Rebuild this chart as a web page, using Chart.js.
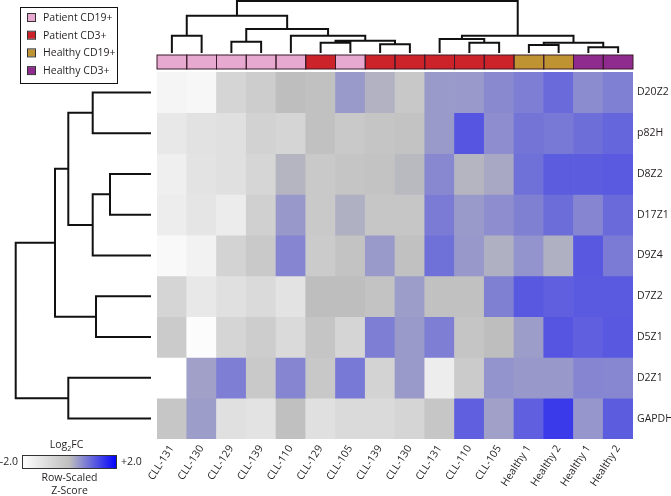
<!DOCTYPE html>
<html>
<head>
<meta charset="utf-8">
<script src="https://cdn.jsdelivr.net/npm/chart.js@4.4.0/dist/chart.umd.min.js"></script>
<style>
  html, body { margin: 0; padding: 0; background: #fff; }
  canvas { display: block; }
</style>
</head>
<body>
<canvas id="heatmap" width="671" height="496"></canvas>
<script>
// Column (sample) labels, in dendrogram order
const colLabels = ['CLL-131', 'CLL-130', 'CLL-129', 'CLL-139', 'CLL-110', 'CLL-129', 'CLL-105', 'CLL-139',
                   'CLL-130', 'CLL-131', 'CLL-110', 'CLL-105', 'Healthy 1', 'Healthy 2', 'Healthy 1', 'Healthy 2'];
// Sample group of each column (index into groupNames)
const colGroups = [0, 0, 0, 0, 0, 1, 0, 1, 1, 1, 1, 1, 2, 2, 3, 3];
const groupNames = ['Patient CD19+', 'Patient CD3+', 'Healthy CD19+', 'Healthy CD3+'];
const groupColors = ['#e7a9d0', '#cc2229', '#bf9331', '#8f2a8f'];

// Row (probe) labels
const rowLabels = ['D20Z2', 'p82H', 'D8Z2', 'D17Z1', 'D9Z4', 'D7Z2', 'D5Z1', 'D2Z1', 'GAPDH'];

// Row-scaled z-scores, one array per row
const d20z2 = [-1.70, -1.75, -0.70, -0.45, 0.00, -0.10, 0.38, 0.13, -0.30, 0.38, 0.39, 0.56, 0.67, 0.88, 0.54, 0.66];
const p82h  = [-1.29, -1.10, -1.05, -0.60, -0.70, -0.10, -0.35, -0.20, -0.15, 0.38, 1.10, 0.52, 0.78, 0.74, 0.84, 0.93];
const d8z2  = [-1.50, -1.15, -1.05, -0.75, 0.10, -0.35, -0.20, -0.15, 0.05, 0.57, 0.10, 0.23, 0.82, 1.03, 1.03, 1.05];
const d17z1 = [-1.45, -1.20, -1.40, -0.55, 0.40, -0.35, 0.15, -0.25, -0.25, 0.70, 0.38, 0.52, 0.65, 0.85, 0.60, 0.88];
const d9z4  = [-1.80, -1.60, -0.65, -0.35, 0.60, -0.40, -0.15, 0.38, -0.10, 0.82, 0.40, 0.15, 0.45, 0.15, 1.07, 0.70];
const d7z2  = [-0.70, -1.30, -1.05, -0.85, -1.15, 0.00, 0.00, -0.15, 0.35, -0.10, -0.10, 0.65, 1.07, 1.00, 1.05, 1.05];
const d5z1  = [-0.40, -1.90, -0.70, -0.45, -0.85, -0.20, -0.70, 0.67, 0.38, 0.67, -0.20, 0.00, 0.35, 1.10, 1.00, 1.07];
const d2z1  = [-2.00, 0.32, 0.67, -0.35, 0.60, -0.30, 0.74, -0.65, 0.38, -1.45, -0.40, 0.45, 0.40, 0.40, 0.60, 0.58];
const gapdh = [-0.25, 0.35, -1.05, -1.15, -0.05, -1.05, -0.85, -0.85, -0.70, -0.25, 1.00, 0.32, 1.00, 1.39, 0.42, 1.03];
const zScores = [d20z2, p82h, d8z2, d17z1, d9z4, d7z2, d5z1, d2z1, gapdh];

// Dendrogram merges: [childA, childB, height]; ids >= n refer to earlier merges
const colMerges = [
  [14, 15, 4.7], [12, 13, 7], [7, 8, 7.7], [5, 6, 9.3], [10, 11, 9.3],
  [16, 17, 9.3], [2, 3, 10.3], [19, 18, 11.3], [9, 20, 13], [0, 1, 16.3],
  [4, 23, 16.3], [24, 21, 16.3], [22, 26, 23], [25, 28, 36.3], [29, 27, 51]
];
const rowMerges = [
  [2, 3, 40], [0, 1, 57.3], [9, 4, 57.3], [5, 6, 54],
  [7, 8, 81.7], [10, 11, 81.7], [14, 12, 95], [15, 13, 134.3]
];

const FONT = "'Open Sans', sans-serif";

// -2 -> white, 0 -> grey, +2 -> blue
function zColor(v) {
  const t = Math.max(0, Math.min(1, (v + 2) / 4));
  if (t < 0.5) {
    const g = Math.round(255 - 65 * t * 2);
    return `rgb(${g},${g},${g})`;
  }
  const s = (t - 0.5) * 2;
  const rg = Math.round(190 * (1 - s));
  return `rgb(${rg},${rg},${Math.round(190 + 65 * s)})`;
}

// Draw a dendrogram; leafPos(i) gives the pixel of leaf i, place(pos, h) returns [x, y]
function drawDendro(ctx, merges, n, leafPos, place) {
  const pos = [], hgt = [];
  for (let i = 0; i < n; i++) { pos.push(leafPos(i)); hgt.push(0); }
  ctx.beginPath();
  merges.forEach(([a, b, h]) => {
    const p1 = place(pos[a], hgt[a]), p2 = place(pos[a], h);
    const p3 = place(pos[b], h), p4 = place(pos[b], hgt[b]);
    ctx.moveTo(p1[0], p1[1]);
    ctx.lineTo(p2[0], p2[1]);
    ctx.lineTo(p3[0], p3[1]);
    ctx.lineTo(p4[0], p4[1]);
    pos.push((pos[a] + pos[b]) / 2);
    hgt.push(h);
  });
  ctx.stroke();
}

const extrasPlugin = {
  id: 'extras',
  afterDraw(chart) {
    const { ctx, chartArea, scales: { x, y } } = chart;
    const half = (x.getPixelForValue(1) - x.getPixelForValue(0)) / 2;
    ctx.save();

    // dendrograms
    ctx.strokeStyle = '#111';
    ctx.lineWidth = 2;
    ctx.lineCap = 'square';
    const leafY = chartArea.top - 20;
    drawDendro(ctx, colMerges, colLabels.length, i => x.getPixelForValue(i), (p, h) => [p, leafY - h]);
    const leafX = chartArea.left - 7;
    drawDendro(ctx, rowMerges, rowLabels.length, i => y.getPixelForValue(i + 0.5), (p, h) => [leafX - h, p]);

    // group annotation bar
    const barTop = chartArea.top - 17, barH = 14;
    colGroups.forEach((g, i) => {
      const cx = x.getPixelForValue(i);
      ctx.fillStyle = groupColors[g];
      ctx.fillRect(cx - half, barTop, half * 2, barH);
    });
    ctx.strokeStyle = '#3a1a2a';
    ctx.lineWidth = 1;
    colGroups.forEach((g, i) => {
      const cx = x.getPixelForValue(i);
      ctx.strokeRect(cx - half, barTop, half * 2, barH);
    });

    // group legend
    ctx.strokeStyle = '#111';
    ctx.strokeRect(20.5, 7.5, 97, 76);
    ctx.font = `10.5px ${FONT}`;
    ctx.textBaseline = 'middle';
    ctx.textAlign = 'left';
    groupNames.forEach((name, i) => {
      const cy = 18 + i * 17.7;
      ctx.fillStyle = groupColors[i];
      ctx.fillRect(28, cy - 4, 7, 7);
      ctx.strokeStyle = '#333';
      ctx.strokeRect(27.5, cy - 4.5, 8, 8);
      ctx.fillStyle = '#231f20';
      ctx.fillText(name, 43, cy);
    });

    // colour key
    const kx = 22, ky = 455, kw = 95, kh = 14;
    const grad = ctx.createLinearGradient(kx, 0, kx + kw, 0);
    for (let k = 0; k <= 20; k++) grad.addColorStop(k / 20, zColor(-2 + 4 * k / 20));
    ctx.fillStyle = grad;
    ctx.fillRect(kx, ky, kw, kh);
    ctx.strokeStyle = '#333';
    ctx.strokeRect(kx + 0.5, ky + 0.5, kw - 1, kh - 1);
    ctx.fillStyle = '#231f20';
    ctx.font = `10.5px ${FONT}`;
    ctx.textAlign = 'right';
    ctx.fillText('\u20132.0', kx - 4, ky + kh / 2);
    ctx.textAlign = 'left';
    ctx.fillText('+2.0', kx + kw + 4, ky + kh / 2);
    ctx.textAlign = 'center';
    const kc = kx + kw / 2;
    ctx.fillText('Row-Scaled', kc, 478);
    ctx.fillText('Z-Score', kc, 491);
    // Log2FC with subscript
    const wLog = ctx.measureText('Log').width, wFC = ctx.measureText('FC').width;
    ctx.font = `7px ${FONT}`;
    const w2 = ctx.measureText('2').width;
    const start = kc - 3 - (wLog + w2 + wFC) / 2;
    ctx.textAlign = 'left';
    ctx.fillText('2', start + wLog, 449);
    ctx.font = `10.5px ${FONT}`;
    ctx.fillText('Log', start, 445);
    ctx.fillText('FC', start + wLog + w2, 445);

    ctx.restore();
  }
};

const datasets = rowLabels.map((name, r) => ({
  label: name,
  data: colLabels.map(() => [r, r + 1]),
  backgroundColor: zScores[r].map(zColor),
  borderWidth: 0,
  barPercentage: 1,
  categoryPercentage: 1
}));

new Chart(document.getElementById('heatmap'), {
  type: 'bar',
  data: { labels: colLabels, datasets },
  options: {
    responsive: false,
    animation: false,
    layout: { padding: { left: 157, top: 72, right: 0, bottom: 0 } },
    plugins: { legend: { display: false }, tooltip: { enabled: false } },
    scales: {
      x: {
        stacked: true,
        grid: { display: false, drawTicks: false },
        border: { display: false },
        ticks: {
          autoSkip: false,
          minRotation: 57,
          maxRotation: 57,
          padding: 4,
          color: '#231f20',
          font: { family: FONT, size: 10.5 }
        },
        afterFit: s => { s.height = 57; }
      },
      y: {
        min: 0,
        max: 9,
        reverse: true,
        stacked: false,
        position: 'right',
        grid: { display: false, drawTicks: false },
        border: { display: false },
        afterBuildTicks: s => { s.ticks = rowLabels.map((_, i) => ({ value: i + 0.5 })); },
        ticks: {
          padding: 4,
          color: '#231f20',
          font: { family: FONT, size: 10.5 },
          callback: (v, i) => rowLabels[i]
        },
        afterFit: s => { s.width = 38; }
      }
    }
  },
  plugins: [extrasPlugin]
});
</script>
</body>
</html>
